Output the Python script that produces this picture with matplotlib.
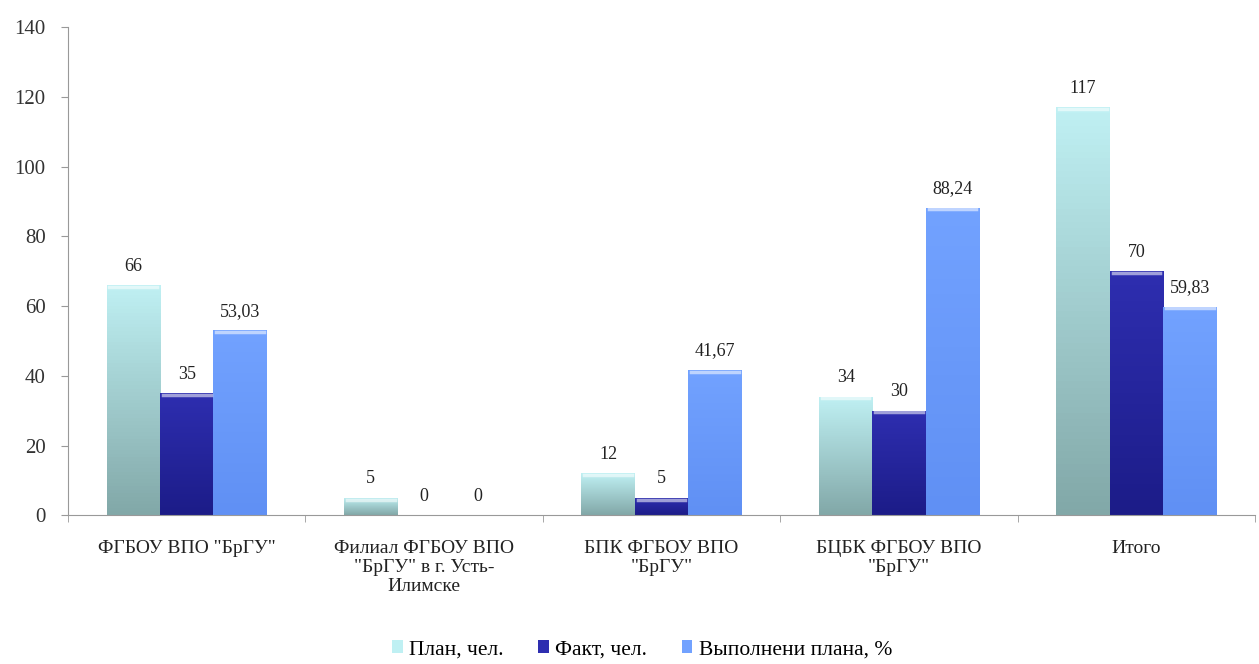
import numpy as np
import matplotlib.pyplot as plt
from matplotlib.colors import LinearSegmentedColormap

categories = ['ФГБОУ ВПО "БрГУ"',
              'Филиал ФГБОУ ВПО\n"БрГУ" в г. Усть-\nИлимске',
              'БПК ФГБОУ ВПО\n"БрГУ"',
              'БЦБК ФГБОУ ВПО\n"БрГУ"',
              'Итого']
plan = [66, 5, 12, 34, 117]
fact = [35, 0, 5, 30, 70]
pct = [53.03, 0, 41.67, 88.24, 59.83]
series_names = ['План, чел.', 'Факт, чел.', 'Выполнени плана, %']

plt.rcParams['font.family'] = ['Liberation Serif', 'DejaVu Serif']

fig = plt.figure(figsize=(12.59, 6.64), dpi=100)
ax = fig.add_axes([0.054, 0.224, 0.943, 0.735])

# (top colour, bottom colour) for each series
grads = [('#bff0f3', '#82a8a8'), ('#2e2eb0', '#1c1c88'), ('#72a2ff', '#6090f4')]
x = np.arange(len(categories))
w = 0.225
handles = []
for i, (vals, name) in enumerate(zip([plan, fact, pct], series_names)):
    top, bot = grads[i]
    cmap = LinearSegmentedColormap.from_list('g%d' % i, [bot, top])
    bars = ax.bar(x + (i - 1) * w, vals, w, color=top, edgecolor='none', label=name)
    handles.append(bars)
    for b, v in zip(bars, vals):
        if v > 0:
            x0, h = b.get_x(), b.get_height()
            grad = np.linspace(0, 1, 64).reshape(-1, 1)
            im = ax.imshow(grad, extent=[x0, x0 + w, 0, h], origin='lower',
                           aspect='auto', cmap=cmap, zorder=2)
            im.set_clip_path(b)
            # light rim at the top of each bar
            ax.plot([x0 + 0.012, x0 + w - 0.012], [h - 0.5, h - 0.5], color='white',
                    alpha=0.55, lw=2.5, zorder=3)
        lab = ('%.2f' % v).replace('.', ',') if i == 2 and v > 0 else '%d' % v
        ax.text(b.get_x() + w / 2, v + 3, lab, ha='center', va='bottom',
                fontsize=13, color='#222222', zorder=4)

ax.set_xlim(-0.5, len(categories) - 0.5)
ax.set_ylim(0, 140)
ax.set_yticks(range(0, 141, 20))
ax.set_xticks(x)
ax.set_xticklabels(categories, fontsize=14, color='#222222', linespacing=1.15)
ax.set_xticks(np.arange(-0.5, len(categories), 1), minor=True)
ax.tick_params(axis='x', which='major', length=0, pad=18)
ax.tick_params(axis='x', which='minor', length=5, color='#999999')
ax.tick_params(axis='y', length=5, color='#999999', labelsize=15,
               labelcolor='#333333', pad=11)
for s in ['top', 'right']:
    ax.spines[s].set_visible(False)
for s in ['left', 'bottom']:
    ax.spines[s].set_color('#999999')

fig.legend(handles=handles, loc='lower center', bbox_to_anchor=(0.51, -0.022),
           ncol=3, frameon=False, fontsize=15.5, handlelength=0.5,
           handleheight=0.5, handletextpad=0.3, columnspacing=1.6)

fig.savefig('out.png', dpi=100)
